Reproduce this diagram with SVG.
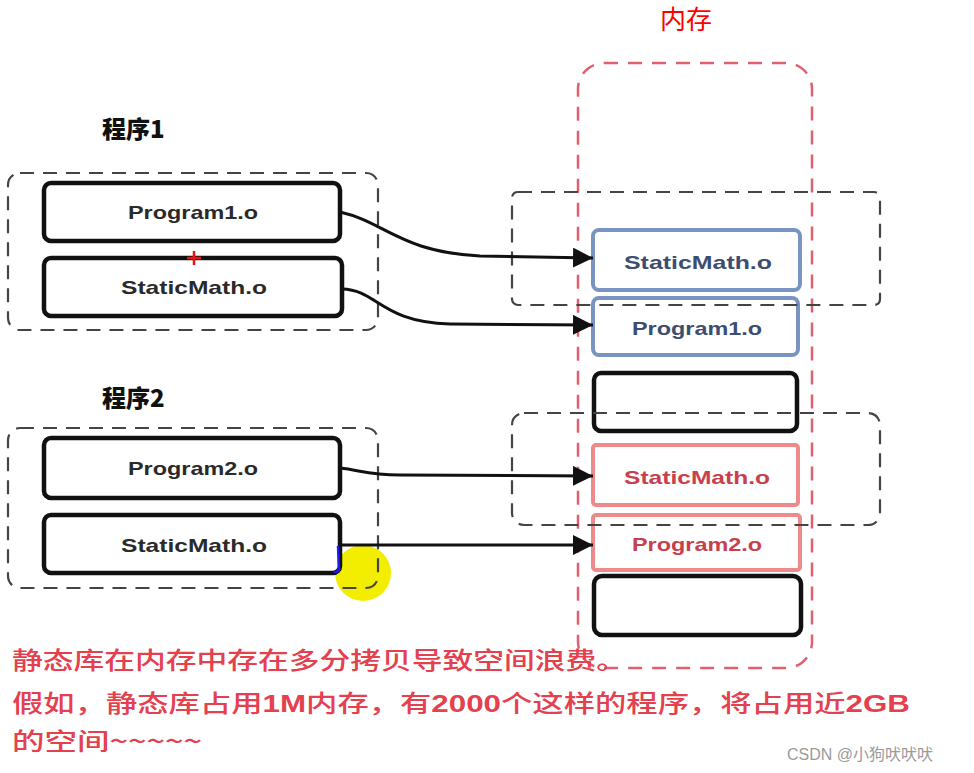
<svg xmlns="http://www.w3.org/2000/svg" width="974" height="773" viewBox="0 0 974 773">
<defs>
<style>
.grp{fill:none;stroke:#444;stroke-width:2.2;stroke-dasharray:14 9}
.mem{fill:none;stroke:#e06070;stroke-width:2.5;stroke-dasharray:14 10}
.box{fill:#fff;stroke:#111;stroke-width:4.5}
.bbox{fill:#fff;stroke:#7a94c2;stroke-width:4}
.rbox{fill:#fff;stroke:#ee8a8a;stroke-width:4}
.lbl{font-family:"Liberation Sans","Noto Sans",sans-serif;font-weight:bold;font-size:19px;fill:#2a2a2a;text-anchor:start}
.blbl{fill:#3d4d70}
.rlbl{fill:#c8404e}
.conn{fill:none;stroke:#111;stroke-width:3}
.title{font-family:"Noto Sans CJK SC","Liberation Sans",sans-serif;font-weight:900;font-size:24px;fill:#111}
.note{font-family:"Noto Sans CJK SC","Liberation Sans",sans-serif;font-weight:500;font-size:24px;fill:#e4404e}
.num{font-family:"Liberation Sans",sans-serif;font-weight:bold}
</style>
<marker id="arr" markerUnits="userSpaceOnUse" markerWidth="22" markerHeight="20" refX="20" refY="10" orient="auto">
<path d="M0,0 L20,10 L0,20 Z" fill="#111"/>
</marker>
</defs>
<rect x="0" y="0" width="974" height="773" fill="#fff"/>

<text x="686" y="29" text-anchor="middle" font-family="'Noto Sans CJK SC',sans-serif" font-size="26" fill="#ff0000">内存</text>

<g id="memory">
<rect class="mem" x="578" y="63" width="234" height="605" rx="26"/>
</g>

<text class="title" x="102" y="138">程序1</text>
<text class="title" x="102" y="407">程序2</text>

<circle cx="363" cy="573" r="28" fill="#f3ee00"/>

<g id="p1-program1">
<rect class="box" x="44" y="183" width="296" height="58" rx="7"/>
<text class="lbl" x="128" y="219" textLength="130" lengthAdjust="spacingAndGlyphs">Program1.o</text>
</g>
<g id="p1-staticmath">
<rect class="box" x="44" y="258" width="298" height="58" rx="7"/>
<text class="lbl" x="121" y="294" textLength="146" lengthAdjust="spacingAndGlyphs">StaticMath.o</text>
</g>
<g id="p2-program2">
<rect class="box" x="44" y="438" width="296" height="60" rx="7"/>
<text class="lbl" x="128" y="475" textLength="130" lengthAdjust="spacingAndGlyphs">Program2.o</text>
</g>
<g id="p2-staticmath">
<rect class="box" x="44" y="515" width="296" height="58" rx="7"/>
<text class="lbl" x="121" y="552" textLength="146" lengthAdjust="spacingAndGlyphs">StaticMath.o</text>
</g>

<g id="m-staticmath1">
<rect class="bbox" x="593" y="230" width="207" height="60" rx="6"/>
<text class="lbl blbl" x="624" y="269" textLength="148" lengthAdjust="spacingAndGlyphs">StaticMath.o</text>
</g>
<g id="m-program1">
<rect class="bbox" x="593" y="298" width="205" height="57" rx="6"/>
<text class="lbl blbl" x="632" y="335" textLength="130" lengthAdjust="spacingAndGlyphs">Program1.o</text>
</g>
<g id="m-empty1">
<rect class="box" x="594" y="373" width="203" height="58" rx="7"/>
</g>
<g id="m-staticmath2">
<rect class="rbox" x="593" y="445" width="205" height="60" rx="3"/>
<text class="lbl rlbl" x="624" y="484" textLength="146" lengthAdjust="spacingAndGlyphs">StaticMath.o</text>
</g>
<g id="m-program2">
<rect class="rbox" x="593" y="515" width="207" height="55" rx="3"/>
<text class="lbl rlbl" x="632" y="551" textLength="130" lengthAdjust="spacingAndGlyphs">Program2.o</text>
</g>
<g id="m-empty2">
<rect class="box" x="594" y="576" width="207" height="59" rx="8"/>
</g>

<g id="groups">
<rect class="grp" x="8" y="173" width="370" height="157" rx="12"/>
<rect class="grp" x="8" y="428" width="370" height="160" rx="12"/>
<rect class="grp" x="512" y="192" width="368" height="113" rx="6"/>
<rect class="grp" x="512" y="413" width="368" height="112" rx="12"/>
</g>

<g id="connectors">
<path class="conn" marker-end="url(#arr)" d="M340,212 C385,222 400,252 480,256 L593,258"/>
<path class="conn" marker-end="url(#arr)" d="M342,289 C378,290 380,322 450,324 L593,325"/>
<path class="conn" marker-end="url(#arr)" d="M340,468 C360,470 368,475 400,475 L593,476"/>
<path class="conn" marker-end="url(#arr)" d="M338,545 L593,545"/>
</g>

<path d="M338,546 L339,569 Q339,572 334,572" fill="none" stroke="#1a1aff" stroke-width="2.5"/>
<path d="M187,258 L201,258 M194,251 L194,265" stroke="#ee1111" stroke-width="2.5"/>

<text class="note" x="12" y="669" textLength="615" lengthAdjust="spacingAndGlyphs">静态库在内存中存在多分拷贝导致空间浪费。</text>
<text class="note" x="12" y="712" textLength="898" lengthAdjust="spacingAndGlyphs">假如，静态库占用<tspan class="num">1M</tspan>内存，有<tspan class="num">2000</tspan>个这样的程序，将占用近<tspan class="num">2GB</tspan></text>
<text class="note" x="12" y="750" textLength="190" lengthAdjust="spacingAndGlyphs">的空间~~~~~</text>

<text x="787" y="760" font-family="'Liberation Sans','Noto Sans CJK SC',sans-serif" font-size="16" fill="#9a9a9a">CSDN @小狗吠吠吠</text>
</svg>
